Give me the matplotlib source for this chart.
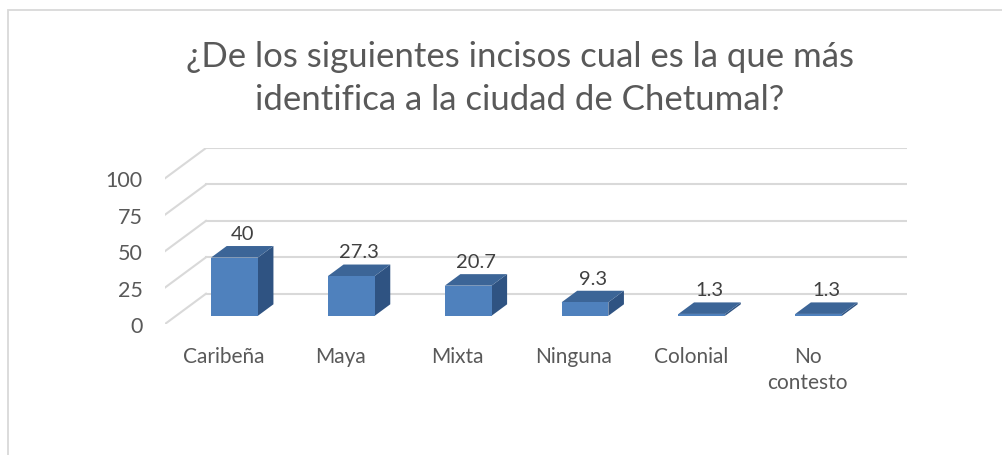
import matplotlib.pyplot as plt
from matplotlib.patches import Polygon, Rectangle

categorias = ['Caribeña', 'Maya', 'Mixta', 'Ninguna', 'Colonial', 'No\ncontesto']
valores = [40, 27.3, 20.7, 9.3, 1.3, 1.3]
etiquetas = ['40', '27.3', '20.7', '9.3', '1.3', '1.3']
ticks = [0, 25, 50, 75, 100]

plt.rcParams['font.family'] = ['Lato', 'DejaVu Sans']

# profundidad del efecto 3D (en unidades de datos)
DX = 0.351   # categorias
DY = 20.8    # unidades de valor
D0, D1 = 0.27, 0.65   # profundidad frontal / trasera de las barras
ANCHO = 0.40

FRENTE = '#4f81bd'
TAPA = '#3c6597'
LADO = '#2f5382'
GRIS = '#d9d9d9'
TEXTO = '#595959'

fig = plt.figure(figsize=(10.03, 4.56), dpi=100)
fig.patches.append(Rectangle((8.5 / 1003, -0.1), 1.2, 1.1 - 10.5 / 456,
                             transform=fig.transFigure, fill=False,
                             edgecolor=GRIS, lw=1.3))

ax = fig.add_axes([165 / 1003, (456 - 325) / 456, (907 - 165) / 1003, 176 / 456])
n = len(categorias)
ax.set_xlim(-0.5, n - 0.5 + DX)
ax.set_ylim(0, 100 + DY)

# pared del fondo y lineas laterales
for t in ticks:
    ax.plot([-0.5 + DX, n - 0.5 + DX], [t + DY, t + DY], color=GRIS, lw=1.5, zorder=1)
    ax.plot([-0.5, -0.5 + DX], [t, t + DY], color=GRIS, lw=1.5, zorder=1)

for i, v in enumerate(valores):
    x0 = i + DX * D0 - ANCHO / 2
    x1 = x0 + ANCHO
    yb = DY * D0
    yt = yb + v
    ddx = DX * (D1 - D0)
    ddy = DY * (D1 - D0)
    ax.add_patch(Polygon([(x1, yb), (x1 + ddx, yb + ddy), (x1 + ddx, yt + ddy), (x1, yt)],
                         closed=True, facecolor=LADO, edgecolor='none', zorder=3))
    ax.add_patch(Polygon([(x0, yt), (x1, yt), (x1 + ddx, yt + ddy), (x0 + ddx, yt + ddy)],
                         closed=True, facecolor=TAPA, edgecolor='none', zorder=3))
    ax.add_patch(Rectangle((x0, yb), ANCHO, v, facecolor=FRENTE, edgecolor='none', zorder=4))
    ax.annotate(etiquetas[i], (i + DX * (D0 + D1) / 2, yt + ddy),
                xytext=(0, 3), textcoords='offset points',
                ha='center', va='bottom', fontsize=14.5, color='#404040', zorder=5)

ax.set_xticks(range(n))
ax.set_xticklabels(categorias, fontsize=15, color=TEXTO, va='top', linespacing=1.35)
ax.set_yticks(ticks)
ax.set_yticklabels([str(t) for t in ticks], fontsize=15.5, color=TEXTO)
ax.tick_params(axis='x', length=0, pad=16)
ax.tick_params(axis='y', length=0, pad=16)
for s in ax.spines.values():
    s.set_visible(False)
ax.set_facecolor('none')

fig.text(0.518, 0.828, '¿De los siguientes incisos cual es la que más\nidentifica a la ciudad de Chetumal?',
         ha='center', va='center', fontsize=25, color=TEXTO, linespacing=1.42)

fig.savefig('out.png', dpi=100, facecolor='white')
